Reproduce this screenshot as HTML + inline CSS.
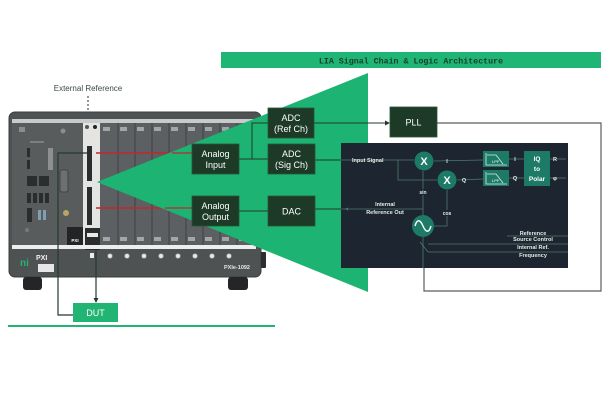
<!DOCTYPE html>
<html><head><meta charset="utf-8"><style>
html,body{margin:0;padding:0;background:#fff;}
svg{display:block;}
</style></head><body>
<svg width="613" height="400" viewBox="0 0 613 400" xmlns="http://www.w3.org/2000/svg" font-family="Liberation Sans, Arial, sans-serif">
<rect width="613" height="400" fill="#ffffff"/>

<!-- Title bar -->
<rect x="221" y="52" width="380" height="16" fill="#1fb574"/>
<text x="411" y="63.5" text-anchor="middle" font-family="Liberation Mono, monospace" font-size="8.3" font-weight="bold" fill="#183c2a">LIA Signal Chain &amp; Logic Architecture</text>

<!-- External reference -->
<text x="88" y="91" text-anchor="middle" font-size="8" fill="#3c4a48">External Reference</text>
<line x1="88" y1="96" x2="88" y2="122" stroke="#333" stroke-width="1" stroke-dasharray="2,2"/>

<!-- Chassis -->
<rect x="9" y="112" width="252" height="165" rx="6" fill="#4e5253" stroke="#3b3e3f" stroke-width="1"/>
<rect x="12" y="119" width="246" height="4" fill="#c8cbcb"/>
<rect x="12" y="123" width="71" height="122" fill="#585c5d"/>
<!-- controller details -->
<rect x="19" y="127" width="6" height="5" fill="#8a8d8e"/>
<circle cx="63" cy="131" r="2.5" fill="#8a8d8e"/>
<rect x="30" y="141" width="14" height="2" fill="#7c7f80"/>
<rect x="27" y="148" width="3" height="9" fill="#2a2c2d"/>
<rect x="27" y="160" width="3" height="9" fill="#2a2c2d"/>
<rect x="48" y="148" width="5" height="22" fill="#8d9091"/>
<rect x="27" y="176" width="10" height="10" fill="#2b2d2e"/>
<rect x="39" y="176" width="10" height="10" fill="#2b2d2e"/>
<rect x="60" y="170" width="8" height="22" rx="2" fill="#6d7071" stroke="#3a3c3d" stroke-width="0.8"/>
<rect x="27" y="193" width="4" height="10" fill="#2a2c2d"/>
<rect x="33" y="193" width="4" height="10" fill="#2a2c2d"/>
<rect x="39" y="193" width="4" height="10" fill="#2a2c2d"/>
<rect x="45" y="193" width="4" height="10" fill="#2a2c2d"/>
<rect x="27" y="208" width="5" height="14" fill="#2a2c2d"/>
<rect x="38" y="210" width="3" height="10" fill="#7f9fb0"/>
<rect x="43" y="210" width="3" height="10" fill="#7f9fb0"/>
<circle cx="66" cy="213" r="3" fill="#b9a760"/>
<circle cx="27" cy="230" r="2" fill="#777a7b"/>
<rect x="67" y="227" width="16" height="22" fill="#222425"/>
<text x="75" y="242" text-anchor="middle" font-size="4.5" font-weight="bold" fill="#fff">PXI</text>
<!-- card -->
<rect x="83" y="123" width="17" height="122" fill="#e4e4e3"/>
<circle cx="87" cy="127" r="2" fill="#555"/><circle cx="95" cy="127" r="2" fill="#222"/>
<rect x="87" y="146" width="5" height="35" fill="#2a2c2d"/>
<rect x="87" y="187" width="5" height="38" fill="#2a2c2d"/>
<rect x="85" y="228" width="15" height="22" fill="#2a2c2d"/>
<rect x="87" y="233" width="11" height="4" fill="#e9e9e9"/>
<!-- slots -->
<rect x="100" y="123" width="156" height="122" fill="#5c6062"/>
<g stroke="#3f4244" stroke-width="1">
<line x1="118" y1="123" x2="118" y2="245"/><line x1="135" y1="123" x2="135" y2="245"/>
<line x1="152" y1="123" x2="152" y2="245"/><line x1="169" y1="123" x2="169" y2="245"/>
<line x1="186" y1="123" x2="186" y2="245"/><line x1="203" y1="123" x2="203" y2="245"/>
<line x1="220" y1="123" x2="220" y2="245"/><line x1="237" y1="123" x2="237" y2="245"/>
</g>
<g fill="#a3a6a7">
<rect x="103" y="127" width="7" height="4"/><rect x="120" y="127" width="7" height="4"/><rect x="137" y="127" width="7" height="4"/>
<rect x="154" y="127" width="7" height="4"/><rect x="171" y="127" width="7" height="4"/><rect x="188" y="127" width="7" height="4"/>
<rect x="205" y="127" width="7" height="4"/><rect x="222" y="127" width="7" height="4"/>
<rect x="103" y="237" width="7" height="4"/><rect x="120" y="237" width="7" height="4"/><rect x="137" y="237" width="7" height="4"/>
<rect x="154" y="237" width="7" height="4"/><rect x="171" y="237" width="7" height="4"/><rect x="188" y="237" width="7" height="4"/>
<rect x="205" y="237" width="7" height="4"/><rect x="222" y="237" width="7" height="4"/><rect x="239" y="237" width="7" height="4"/>
</g>
<rect x="12" y="245" width="244" height="4" fill="#eeeeee"/>
<!-- bottom panel -->
<text x="20" y="266" font-size="10" font-weight="bold" fill="#1fb574">ni</text>
<text x="36" y="260" font-size="7" font-weight="bold" fill="#f2f2f2">PXI</text>
<rect x="38" y="264" width="16" height="8" fill="#e6e6e6"/>
<rect x="90" y="253" width="4" height="5" fill="#eee"/>
<g fill="#e8e8e8" stroke="#8a8d8e" stroke-width="0.8">
<circle cx="110" cy="256" r="2.4"/><circle cx="127" cy="256" r="2.4"/><circle cx="144" cy="256" r="2.4"/>
<circle cx="161" cy="256" r="2.4"/><circle cx="178" cy="256" r="2.4"/><circle cx="195" cy="256" r="2.4"/>
<circle cx="212" cy="256" r="2.4"/><circle cx="229" cy="256" r="2.4"/>
</g>
<text x="237" y="269" text-anchor="middle" font-size="5.5" font-weight="bold" fill="#e8e8e8">PXIe-1092</text>
<rect x="261" y="252" width="5" height="16" rx="1" fill="#2c2e2f"/>
<rect x="23" y="277" width="19" height="13" rx="3" fill="#232526"/>
<rect x="228" y="277" width="20" height="13" rx="3" fill="#232526"/>

<!-- red lines -->
<line x1="96" y1="153" x2="190" y2="153" stroke="#c0282c" stroke-width="1.4"/>
<line x1="96" y1="208" x2="190" y2="208" stroke="#c0282c" stroke-width="1.4"/>

<!-- green triangle -->
<polygon points="97,182 368,73 368,292" fill="#1db372"/>

<!-- lines over triangle -->
<line x1="172" y1="153" x2="192" y2="153" stroke="#c0282c" stroke-width="1.2"/>
<line x1="165" y1="208" x2="192" y2="208" stroke="#c0282c" stroke-width="1.2"/>

<!-- DUT wiring -->
<polyline points="88,153 58,153 58,315 73,315" fill="none" stroke="#233b2c" stroke-width="1.2"/>
<line x1="96" y1="250" x2="96" y2="299" stroke="#233b2c" stroke-width="1.2"/>
<polygon points="93.5,298 98.5,298 96,303" fill="#233b2c"/>
<rect x="73" y="303" width="45" height="19" fill="#22b473"/>
<text x="95.5" y="316" text-anchor="middle" font-size="9" fill="#fff">DUT</text>
<rect x="8" y="325" width="267" height="2" fill="#22b473"/>

<!-- connectors between boxes -->
<g stroke="#243a2c" stroke-width="1" fill="none">
<line x1="239" y1="159" x2="268" y2="159"/>
<polyline points="252,159 252,123 268,123"/>
<line x1="239" y1="211" x2="268" y2="211"/>
<line x1="315" y1="160" x2="341" y2="160"/>
<line x1="315" y1="209" x2="341" y2="209"/>
<line x1="314" y1="123" x2="386" y2="123"/>
</g>
<polygon points="385,120.5 390,123 385,125.5" fill="#243a2c"/>
<polyline points="437,123 601,123 601,291 424,291 424,262" fill="none" stroke="#5a5e5e" stroke-width="1.2"/>

<!-- dark boxes -->
<g fill="#1d3a27" stroke="#2c5238" stroke-width="0.8">
<rect x="268" y="108" width="46" height="30"/>
<rect x="390" y="107" width="47" height="30"/>
<rect x="192" y="144" width="47" height="30"/>
<rect x="268" y="144" width="47" height="30"/>
<rect x="192" y="196" width="47" height="30"/>
<rect x="268" y="196" width="47" height="30"/>
</g>
<g font-size="9" fill="#ffffff" text-anchor="middle">
<text x="291" y="121">ADC</text><text x="291" y="132">(Ref Ch)</text>
<text x="413.5" y="125.5">PLL</text>
<text x="215.5" y="157">Analog</text><text x="215.5" y="168">Input</text>
<text x="291.5" y="157">ADC</text><text x="291.5" y="168">(Sig Ch)</text>
<text x="215.5" y="209">Analog</text><text x="215.5" y="220">Output</text>
<text x="291.5" y="214.5">DAC</text>
</g>

<!-- dark panel -->
<rect x="341" y="143" width="227" height="125" fill="#1d2530"/>
<g stroke="#4d7a6e" stroke-width="0.8" fill="none">
<line x1="341" y1="160" x2="414" y2="160"/>
<polyline points="398,160 398,180 437,180"/>
<line x1="434" y1="161" x2="483" y2="160"/>
<line x1="457" y1="180" x2="483" y2="179"/>
<line x1="509" y1="159" x2="524" y2="159"/>
<line x1="509" y1="178" x2="524" y2="178"/>
<line x1="550" y1="159" x2="566" y2="159"/>
<line x1="550" y1="178" x2="566" y2="178"/>
<line x1="423" y1="215" x2="423" y2="171"/>
<polyline points="434,226 447,226 447,190"/>
<line x1="423" y1="209" x2="341" y2="209"/>
<line x1="423" y1="237" x2="423" y2="268"/>
<line x1="420" y1="242" x2="428" y2="252"/>
<line x1="507" y1="236" x2="568" y2="236"/>
<line x1="428" y1="244" x2="568" y2="244"/>
<line x1="428" y1="252" x2="568" y2="252"/>
</g>
<polygon points="348,207.5 345,209 348,210.5" fill="#4d7a6e"/>
<!-- mixers -->
<circle cx="424" cy="161" r="9.5" fill="#1c7a66"/>
<text x="424" y="165" text-anchor="middle" font-size="11" font-weight="bold" fill="#fff">X</text>
<circle cx="447" cy="180" r="9.5" fill="#1c7a66"/>
<text x="447" y="184" text-anchor="middle" font-size="11" font-weight="bold" fill="#fff">X</text>
<!-- oscillator -->
<circle cx="423" cy="226" r="11" fill="#1c7a66"/>
<path d="M415,226 C417,219 420,219 423,226 C426,233 429,233 431,226" fill="none" stroke="#fff" stroke-width="1.4"/>
<!-- LPF -->
<rect x="483" y="151" width="26" height="16" fill="#1c7a66"/>
<rect x="483" y="170" width="26" height="16" fill="#1c7a66"/>
<g stroke="#d8efe8" stroke-width="0.8" fill="none">
<polyline points="486,153 486,165 507,165"/><polyline points="487,155 496,155 503,164"/>
<polyline points="486,172 486,184 507,184"/><polyline points="487,174 496,174 503,183"/>
</g>
<text x="492" y="163" font-size="4" fill="#fff">LPF</text>
<text x="492" y="182" font-size="4" fill="#fff">LPF</text>
<!-- IQ to Polar -->
<rect x="524" y="151" width="26" height="35" fill="#1c7a66"/>
<g font-size="6.5" fill="#fff" text-anchor="middle" font-weight="bold">
<text x="537" y="161">IQ</text><text x="537" y="171">to</text><text x="537" y="181">Polar</text>
</g>
<!-- panel labels -->
<g font-size="5.5" font-weight="bold" fill="#e6ece9">
<text x="352" y="162">Input Signal</text>
<text x="447" y="163" text-anchor="middle">I</text>
<text x="464" y="182" text-anchor="middle">Q</text>
<text x="515" y="161" text-anchor="middle">I</text>
<text x="515" y="180" text-anchor="middle">Q</text>
<text x="555" y="161" text-anchor="middle">R</text>
<text x="555" y="180" text-anchor="middle">φ</text>
<text x="385" y="206" text-anchor="middle">Internal</text>
<text x="385" y="214" text-anchor="middle">Reference Out</text>
<text x="533" y="235" text-anchor="middle">Reference</text>
<text x="533" y="241" text-anchor="middle">Source Control</text>
<text x="533" y="249" text-anchor="middle">Internal Ref.</text>
<text x="533" y="257" text-anchor="middle">Frequency</text>
</g>
<rect x="418" y="189" width="10" height="6" fill="#1d2530"/>
<text x="423" y="194" text-anchor="middle" font-size="5" font-weight="bold" fill="#e6ece9">sin</text>
<rect x="441" y="210" width="12" height="6" fill="#1d2530"/>
<text x="447" y="215" text-anchor="middle" font-size="5" font-weight="bold" fill="#e6ece9">cos</text>
</svg>
</body></html>
